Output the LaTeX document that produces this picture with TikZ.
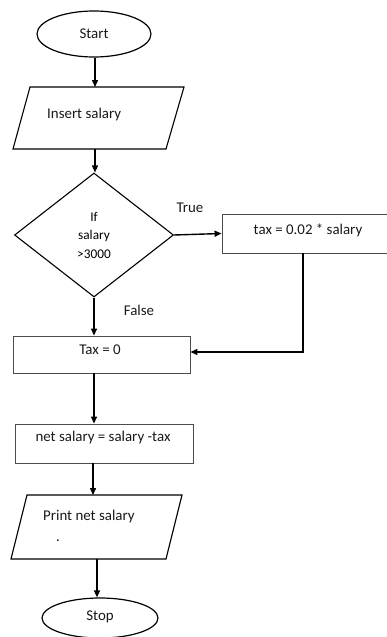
\documentclass[tikz,border=0pt]{standalone}
\usepackage{fontspec}
\setmainfont{Carlito}
\usetikzlibrary{shapes.geometric,arrows.meta,calc}

\tikzset{
  conn/.style={line width=1.4pt, draw=black, -{Triangle[length=7pt,width=6pt]}},
  terminal/.style={ellipse, draw=black, line width=1.2pt, inner sep=0pt},
  iobox/.style={draw=black, line width=1.1pt, line join=miter},
  procbox/.style={rectangle, draw=black!70, line width=0.9pt, inner sep=0pt},
  decision/.style={diamond, draw=black, line width=1.1pt, inner sep=0pt, align=center,
    font=\fontsize{13.3}{18.5}\selectfont},
  txt/.style={font=\fontsize{14.9}{18}\selectfont, inner sep=0pt, text=black!90},
}

\begin{document}
\begin{tikzpicture}[x=1pt, y=-1pt]
  \clip (0,0) rectangle (387,637);

  % start / stop terminals
  \node[terminal, minimum width=114pt, minimum height=46pt] (start) at (94,34) {};
  \node[txt] (starttxt) at (94,34) {Start};

  % input parallelogram
  \coordinate (in1) at (30,87);  \coordinate (in2) at (184,87);
  \coordinate (in3) at (166,149); \coordinate (in4) at (13,149);
  \draw[iobox] (in1) -- (in2) -- (in3) -- (in4) -- cycle;
  \coordinate (intop) at (95,87);
  \coordinate (inbot) at (95,149);
  \node[txt, anchor=west] (intxt) at (47,115) {Insert salary};

  % decision
  \node[decision, minimum width=159pt, minimum height=124pt] (dec) at (94,235)
    {If\\salary\\>3000};

  % true branch
  \node[procbox, minimum width=175pt, minimum height=39pt] (taxbox) at (309.5,233.5) {};
  \node[txt] (taxtxt) at (308,230) {tax = 0.02 * salary};
  \node[txt] (truelbl) at (190,208) {True};

  % false branch
  \node[txt] (falselbl) at (139,310) {False};
  \node[procbox, minimum width=177pt, minimum height=37pt] (tax0) at (101.5,354.5) {};
  \node[txt] (tax0txt) at (100,350) {Tax = 0};

  % net salary
  \node[procbox, minimum width=178pt, minimum height=39pt] (net) at (104,443.5) {};
  \node[txt] (nettxt) at (103,438) {net salary = salary -tax};

  % output parallelogram
  \coordinate (out1) at (27,495);  \coordinate (out2) at (182,495);
  \coordinate (out3) at (166,559); \coordinate (out4) at (11,559);
  \draw[iobox] (out1) -- (out2) -- (out3) -- (out4) -- cycle;
  \coordinate (outtop) at (93,495);
  \coordinate (outbot) at (97,559);
  \node[txt, anchor=west] (outtxt) at (43,517) {Print net salary};
  \node[txt] (outdot) at (58,541) {.};

  \node[terminal, minimum width=116pt, minimum height=40pt] (stop) at (100,618) {};
  \node[txt] (stoptxt) at (100,617) {Stop};

  % connectors
  \draw[conn] (start.south -| intop) -- (intop);
  \draw[conn] (inbot) -- (dec.north -| inbot);
  \draw[conn] (dec.east) -- (taxbox.west);
  \draw[conn] ([xshift=-6.5pt]taxbox.south) |- ([yshift=2.5pt]tax0.east);
  \draw[conn] (dec.south) -- (dec.south |- tax0.north);
  \draw[conn] (tax0.south -| dec.south) -- (net.north -| dec.south);
  \draw[conn] (net.south -| outtop) -- (outtop);
  \draw[conn] (outbot) -- (stop.north -| outbot);
\end{tikzpicture}
\end{document}
